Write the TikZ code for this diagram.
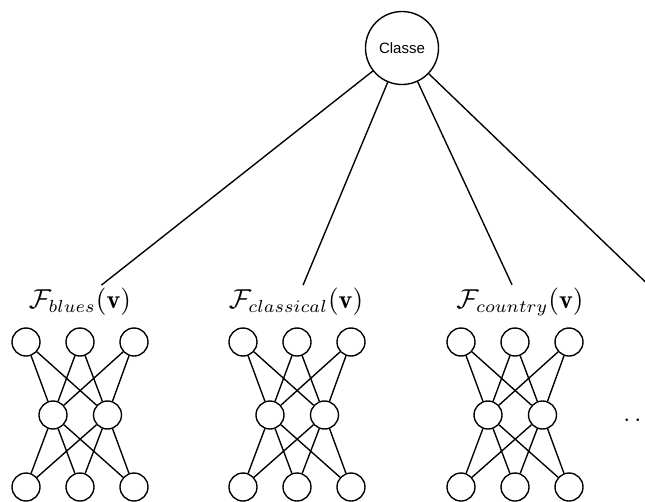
\documentclass[tikz,border=0pt]{standalone}
\usepackage{amsmath,amssymb}
\usepackage{fontspec}
\setsansfont{Liberation Sans}
\usetikzlibrary{positioning}

\begin{document}
\begin{tikzpicture}[
  x=0.4pt, y=-0.4pt,
  line width=0.55pt,
  neuron/.style={draw, circle, minimum size=11.2pt, inner sep=0pt},
  classnode/.style={draw, circle, minimum size=29.2pt, inner sep=0pt,
                    font=\sffamily\fontsize{6}{7}\selectfont},
  flbl/.style={inner sep=1pt, font=\fontsize{10.5}{12}\selectfont}
]
\useasboundingbox (0,0) rectangle (645,501);
\clip (0,0) rectangle (645,501);

\node[classnode] (cls) at (402,48) {Classe};

\node[flbl] (fblues) at (80,302) {$\mathcal{F}_{blues}(\mathbf{v})$};
\node[flbl] (fclass) at (296,302) {$\mathcal{F}_{classical}(\mathbf{v})$};
\node[flbl] (fcountry) at (520,302) {$\mathcal{F}_{country}(\mathbf{v})$};
\coordinate (fmore) at (660,296);

\draw (cls) -- (fblues);
\draw (cls) -- (fclass);
\draw (cls) -- (fcountry);
\draw (cls) -- (fmore);

\foreach \net/\ox in {a/0, b/217, c/435} {
  \node[neuron] (\net t1) at (26+\ox,342) {};
  \node[neuron] (\net t2) at (80+\ox,342) {};
  \node[neuron] (\net t3) at (134+\ox,342) {};
  \node[neuron] (\net m1) at (53+\ox,415) {};
  \node[neuron] (\net m2) at (107.5+\ox,415) {};
  \node[neuron] (\net b1) at (26+\ox,487) {};
  \node[neuron] (\net b2) at (80+\ox,487) {};
  \node[neuron] (\net b3) at (134+\ox,487) {};
  \foreach \i in {1,2,3} {
    \foreach \j in {1,2} {
      \draw (\net t\i) -- (\net m\j);
      \draw (\net m\j) -- (\net b\i);
    }
  }
}

\node (more) at (640,421) {$\cdots$};
\end{tikzpicture}
\end{document}
